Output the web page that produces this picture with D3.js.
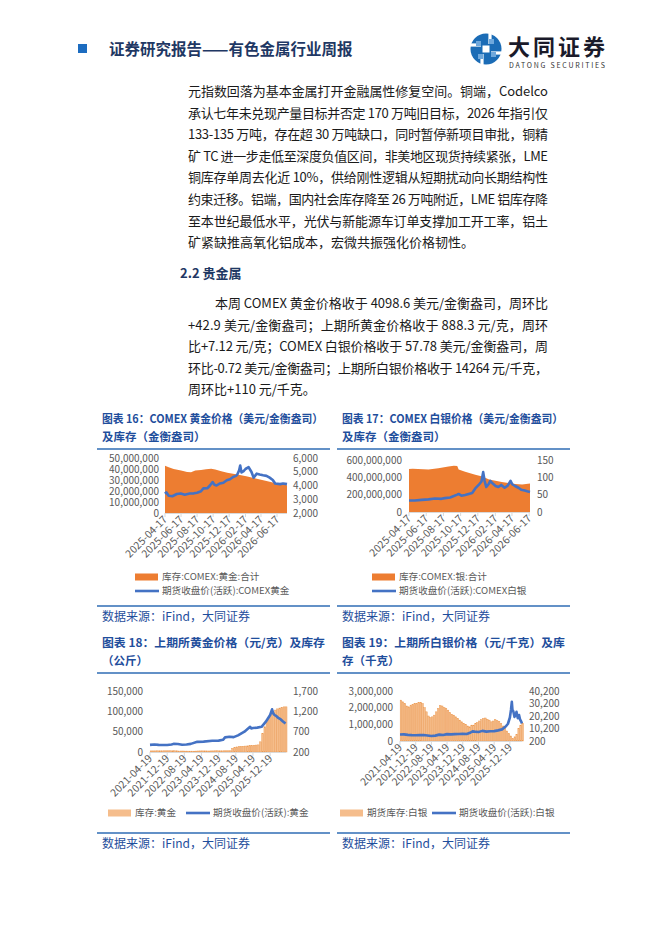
<!DOCTYPE html>
<html>
<head>
<meta charset="utf-8">
<script src="https://cdn.jsdelivr.net/npm/d3@7"></script>
<style>
  body { margin: 0; background: #fff; }
  svg text { font-family: "Noto Sans CJK SC", "Noto Sans", sans-serif; }
</style>
</head>
<body>
<svg id="page" width="662" height="936"></svg>
<script>
// ---------- text ----------
var headerTitle = "证券研究报告——有色金属行业周报";
var para1Lines = [
    "元指数回落为基本金属打开金融属性修复空间。铜端，Codelco",
    "承认七年未兑现产量目标并否定 170 万吨旧目标，2026 年指引仅",
    "133-135 万吨，存在超 30 万吨缺口，同时暂停新项目审批，铜精",
    "矿 TC 进一步走低至深度负值区间，非美地区现货持续紧张，LME",
    "铜库存单周去化近 10%，供给刚性逻辑从短期扰动向长期结构性",
    "约束迁移。铝端，国内社会库存降至 26 万吨附近，LME 铝库存降",
    "至本世纪最低水平，光伏与新能源车订单支撑加工开工率，铝土",
    "矿紧缺推高氧化铝成本，宏微共振强化价格韧性。"
];
var sectionTitle = "2.2 贵金属";
var para2Lines = [
    "本周 COMEX 黄金价格收于 4098.6 美元/金衡盎司，周环比",
    "+42.9 美元/金衡盎司；上期所黄金价格收于 888.3 元/克，周环",
    "比+7.12 元/克；COMEX 白银价格收于 57.78 美元/金衡盎司，周",
    "环比-0.72 美元/金衡盎司；上期所白银价格收于 14264 元/千克，",
    "周环比+110 元/千克。"
];
var sourceText = "数据来源：iFind，大同证券";

// ---------- chart 16: COMEX gold ----------
var goldInvDates = ["2025-04-17","2025-05-01","2025-05-20","2025-06-17","2025-07-10","2025-07-25","2025-08-10","2025-09-01","2025-09-20","2025-10-10","2025-10-25","2025-11-17","2025-12-10","2026-01-17","2026-02-20","2026-04-01","2026-05-08","2026-06-17","2026-07-25"];
var goldInv = [43.0e6,41.5e6,40.0e6,38.6e6,37.3e6,37.0e6,38.6e6,39.2e6,39.8e6,40.2e6,39.5e6,38.0e6,36.5e6,35.0e6,33.3e6,31.2e6,29.2e6,26.8e6,25.2e6];
var goldPriceDates = ["2025-04-17","2025-04-22","2025-05-01","2025-05-15","2025-06-01","2025-06-16","2025-07-01","2025-07-20","2025-08-05","2025-08-17","2025-09-01","2025-09-10","2025-09-25","2025-10-05","2025-10-15","2025-10-22","2025-10-30","2025-11-12","2025-11-25","2025-12-08","2025-12-20","2026-01-01","2026-01-12","2026-01-17","2026-01-24","2026-01-28","2026-02-02","2026-02-10","2026-02-17","2026-03-01","2026-03-12","2026-03-20","2026-04-01","2026-04-12","2026-04-25","2026-05-08","2026-05-20","2026-06-01","2026-06-10","2026-06-29","2026-07-10","2026-07-25"];
var goldPrice = [3400,3500,3260,3220,3380,3420,3330,3420,3430,3480,3580,3790,3800,4000,4250,4050,4000,4150,4200,4380,4450,4620,4700,4800,5100,5450,4950,5050,5200,5330,4980,4570,4860,4800,4740,4700,4570,4400,4140,4100,4150,4100];
var comexTicks = ["2025-04-17","2025-06-17","2025-08-17","2025-10-17","2025-12-17","2026-02-17","2026-04-17","2026-06-17"];

// ---------- chart 17: COMEX silver ----------
var silverInvDates = ["2025-04-17","2025-04-30","2025-06-25","2025-07-30","2025-09-04","2025-09-23","2025-10-05","2025-10-10","2025-11-02","2025-12-08","2026-01-02","2026-01-26","2026-03-12","2026-04-29","2026-05-23","2026-06-20"];
var silverInv = [495e6,500e6,490e6,505e6,525e6,535e6,530e6,490e6,465e6,430e6,410e6,375e6,345e6,322e6,318e6,330e6];
var silverPriceDates = ["2025-04-17","2025-05-08","2025-06-01","2025-06-25","2025-07-18","2025-08-10","2025-08-22","2025-09-10","2025-09-23","2025-10-05","2025-10-10","2025-10-20","2025-11-02","2025-11-27","2025-12-08","2025-12-20","2025-12-30","2026-01-05","2026-01-10","2026-01-16","2026-01-24","2026-01-30","2026-02-08","2026-02-18","2026-02-28","2026-03-10","2026-03-22","2026-04-02","2026-04-12","2026-04-18","2026-04-28","2026-05-10","2026-05-20","2026-06-01","2026-06-10","2026-06-20"];
var silverPrice = [33,33,35,36.5,39,38,40,42,46,50,52,47,49,55,68,78,88,115,90,72,80,90,82,75,72,78,70,76,90,80,75,70,64,62,60,58];

// ---------- chart 18: SHFE gold (monthly stock from 2021-04) ----------
var shfeGoldStock = [2700,2700,2700,2900,3000,3000,3000,3000,3000,3000,3000,3000,3000,2400,2400,2400,2100,2100,2100,2100,2000,2200,2500,2600,2700,2800,2700,2500,2700,2700,2900,3000,3000,3000,3000,3000,3000,3000,
    9000,11000,12500,13000,13500,14000,14500,15000,15500,15800,16500,17000,17500,25000,45000,62000,75000,85000,92000,98000,103000,106000,108000,110000,111000,111000];
var shfeGoldPriceDates = ["2021-04-19","2021-06-19","2021-08-19","2021-10-19","2021-12-19","2022-02-19","2022-03-19","2022-05-19","2022-07-19","2022-09-19","2022-11-19","2023-02-19","2023-05-19","2023-09-19","2023-12-19","2024-02-19","2024-03-19","2024-05-19","2024-07-19","2024-09-19","2024-12-19","2025-03-10","2025-03-25","2025-04-19","2025-06-19","2025-08-19","2025-10-19","2025-12-19","2026-01-15","2026-02-01","2026-02-19","2026-03-19","2026-04-19","2026-05-19","2026-06-19","2026-07-25"];
var shfeGoldPrice = [375,385,375,372,372,385,400,395,380,385,400,450,455,475,480,500,560,575,565,610,700,820,780,790,800,820,945,1110,1250,1150,1110,1080,1030,1000,950,900];
var shfeTicks = ["2021-04-19","2021-12-19","2022-08-19","2023-04-19","2023-12-19","2024-08-19","2025-04-19","2025-12-19"];

// ---------- chart 19: SHFE silver (monthly stock from 2021-04) ----------
var shfeSilverStock = [2.45e6,2.35e6,2.25e6,2.10e6,2.05e6,2.15e6,2.20e6,2.25e6,2.25e6,2.30e6,2.32e6,2.25e6,2.00e6,1.75e6,1.50e6,1.40e6,1.45e6,1.55e6,1.75e6,1.95e6,2.12e6,2.10e6,2.00e6,1.95e6,1.85e6,1.70e6,1.60e6,1.55e6,1.45e6,1.35e6,1.25e6,1.15e6,1.05e6,1.00e6,0.90e6,0.85e6,0.95e6,0.95e6,1.05e6,1.10e6,1.20e6,1.28e6,1.35e6,1.38e6,1.30e6,1.25e6,1.15e6,1.20e6,1.28e6,1.22e6,1.18e6,1.05e6,0.90e6,0.75e6,0.60e6,0.45e6,0.30e6,0.15e6,0.25e6,0.40e6,0.75e6,0.95e6,1.05e6];
var shfeSilverPriceDates = ["2021-04-19","2021-06-19","2021-08-19","2021-10-19","2021-12-19","2022-02-19","2022-04-19","2022-06-19","2022-08-19","2022-10-19","2022-12-19","2023-02-19","2023-04-19","2023-06-19","2023-08-19","2023-10-19","2023-12-19","2024-02-19","2024-04-19","2024-05-19","2024-06-19","2024-08-19","2024-10-19","2024-12-19","2025-02-19","2025-04-19","2025-06-19","2025-08-19","2025-10-19","2025-11-19","2025-12-19","2026-01-05","2026-01-18","2026-01-28","2026-02-10","2026-03-01","2026-03-20","2026-04-01","2026-04-20","2026-05-10","2026-05-25","2026-06-10","2026-06-25"];
var shfeSilverPrice = [5400,5500,5100,4900,4800,4900,5000,4600,4200,4500,5300,5000,5700,5500,5700,5800,5900,5800,7000,7900,7700,7400,8300,7700,8000,8100,8700,9500,12000,14000,19000,25000,31500,25000,24000,19500,21000,23500,18500,21000,17500,16000,14300];

// ---------- helpers ----------
var parse = d3.timeParse("%Y-%m-%d");
var page = d3.select("#page");
var LINE_BLUE = "#4472c4", AREA_ORANGE = "#ed7d31", BAR_FILL = "#f5bd8c", BAR_EDGE = "#ec9a52";
var NAVY = "#1f3864", TITLE_BLUE = "#1f4e9c", AXIS_GREY = "#595959";
var fmt = d3.format(",");

// header
page.append("rect").attr("x", 78).attr("y", 44).attr("width", 9).attr("height", 9).attr("fill", "#1c6cc0");
page.append("text").attr("x", 109).attr("y", 55).attr("font-size", 15.5).attr("font-weight", "bold")
    .attr("fill", NAVY).text(headerTitle);

// logo
var logo = page.append("g").attr("transform", "translate(486,49)");
logo.append("circle").attr("r", 15.5).attr("fill", "#1b6cb6");
[0, 90, 180, 270].forEach(function (a) {
    logo.append("rect").attr("x", -1.6).attr("y", -16).attr("width", 3.2).attr("height", 11)
        .attr("fill", "#fff").attr("transform", "rotate(" + a + ") translate(4,0)");
    logo.append("rect").attr("x", 3).attr("y", -10).attr("width", 5).attr("height", 5)
        .attr("fill", "#6fa8dc").attr("transform", "rotate(" + a + ")");
});
logo.append("rect").attr("x", -3.5).attr("y", -3.5).attr("width", 7).attr("height", 7).attr("fill", "#fff");
page.append("text").attr("x", 508).attr("y", 55).attr("font-size", 22).attr("font-weight", "bold")
    .attr("fill", "#1a1a2a").attr("textLength", 97).text("大同证券");
page.append("text").attr("x", 509).attr("y", 68).attr("font-size", 7)
    .attr("fill", "#333").attr("textLength", 96).text("DATONG SECURITIES");

// body text
var textLeft = 188, textRight = 548, lineH = 21.6;
function drawPara(lines, y0, indent) {
    lines.forEach(function (s, i) {
        var x = textLeft + (i === 0 ? indent : 0);
        var t = page.append("text").attr("x", x).attr("y", y0 + i * lineH)
            .attr("font-size", 13).attr("fill", "#1a1a1a").text(s);
        if (i < lines.length - 1) {
            t.attr("textLength", textRight - x).attr("lengthAdjust", "spacing");
        }
    });
}
drawPara(para1Lines, 96, 0);
page.append("text").attr("x", 180).attr("y", 278).attr("font-size", 13).attr("font-weight", "bold")
    .attr("fill", NAVY).text(sectionTitle);
drawPara(para2Lines, 308, 27);

// ---------- chart drawing ----------
function drawChart(o) {
    var g = page.append("g");

    // title
    g.append("text").attr("x", o.left).attr("y", o.titleY).attr("font-size", 11.5).attr("font-weight", "bold")
        .attr("fill", TITLE_BLUE).attr("textLength", o.titleW).attr("lengthAdjust", "spacingAndGlyphs")
        .text(o.title1);
    g.append("text").attr("x", o.left).attr("y", o.titleY + 17.5).attr("font-size", 11.5).attr("font-weight", "bold")
        .attr("fill", TITLE_BLUE).text(o.title2);
    g.append("line").attr("x1", o.left - 5).attr("x2", o.left + 228).attr("y1", o.titleY + 26).attr("y2", o.titleY + 26)
        .attr("stroke", "#2f6db5").attr("stroke-width", 1.6);

    var x = d3.scaleTime().domain(o.domain.map(parse)).range([o.x0, o.x1]);
    var yL = d3.scaleLinear().domain([0, o.leftMax]).range([o.yBot, o.yTop]);
    var yR = d3.scaleLinear().domain([o.rightMin, o.rightMax]).range([o.yBot, o.yTop]);

    // inventory
    if (o.invType === "area") {
        var invData = o.invDates.map(function (d, i) { return {d: parse(d), v: o.inv[i]}; });
        g.append("path").datum(invData)
            .attr("fill", AREA_ORANGE)
            .attr("d", d3.area().x(function (p) { return x(p.d); }).y0(o.yBot).y1(function (p) { return yL(p.v); }));
    } else {
        var start = parse(o.domain[0]);
        var bars = o.inv.map(function (v, i) { return {d: d3.timeMonth.offset(start, i), v: v}; });
        var bw = x(d3.timeMonth.offset(start, 1)) - x(start);
        g.selectAll(".bar").data(bars).enter().append("rect")
            .attr("x", function (p) { return x(p.d) + bw * 0.1; })
            .attr("y", function (p) { return yL(p.v); })
            .attr("width", bw * 0.8)
            .attr("height", function (p) { return o.yBot - yL(p.v); })
            .attr("fill", BAR_FILL).attr("stroke", BAR_EDGE).attr("stroke-width", 0.5);
    }

    // x axis
    g.append("line").attr("x1", o.x0).attr("x2", o.x1).attr("y1", o.yBot + 0.5).attr("y2", o.yBot + 0.5)
        .attr("stroke", "#d9d9d9").attr("stroke-width", 1);
    var ticks = o.ticks.map(parse);
    g.selectAll(".tk").data(ticks).enter().append("line")
        .attr("x1", function (d) { return x(d); }).attr("x2", function (d) { return x(d); })
        .attr("y1", o.yBot).attr("y2", o.yBot + 4).attr("stroke", "#d9d9d9");
    g.selectAll(".tl").data(o.ticks).enter().append("text")
        .attr("text-anchor", "end").attr("font-size", 10.5).attr("fill", AXIS_GREY)
        .attr("transform", function (d) { return "translate(" + (x(parse(d)) + 3) + "," + (o.yBot + 7) + ") rotate(-45)"; })
        .text(function (d) { return d; });

    // price line
    var priceData = o.priceDates.map(function (d, i) { return {d: parse(d), v: o.price[i]}; });
    g.append("path").datum(priceData)
        .attr("fill", "none").attr("stroke", LINE_BLUE).attr("stroke-width", 2.6).attr("stroke-linejoin", "round")
        .attr("d", d3.line().x(function (p) { return x(p.d); }).y(function (p) { return yR(p.v); }));

    // y labels
    g.selectAll(".yl").data(d3.range(0, o.leftMax + 1, o.leftStep)).enter().append("text")
        .attr("x", o.leftLabelX).attr("y", function (d) { return yL(d); }).attr("dy", ".35em")
        .attr("text-anchor", "end").attr("font-size", 10).attr("fill", AXIS_GREY)
        .text(function (d) { return fmt(d); });
    g.selectAll(".yr").data(d3.range(o.rightMin, o.rightMax + 1, o.rightStep)).enter().append("text")
        .attr("x", o.rightLabelX).attr("y", function (d) { return yR(d); }).attr("dy", ".35em")
        .attr("font-size", 10).attr("fill", AXIS_GREY)
        .text(function (d) { return fmt(d); });

    // legend
    o.legend.forEach(function (L) {
        if (L.kind === "area") {
            g.append("rect").attr("x", L.x).attr("y", L.y - 3.5).attr("width", 23).attr("height", 7)
                .attr("fill", o.invType === "area" ? AREA_ORANGE : BAR_FILL);
        } else {
            g.append("line").attr("x1", L.x).attr("x2", L.x + 24).attr("y1", L.y).attr("y2", L.y)
                .attr("stroke", LINE_BLUE).attr("stroke-width", 2.6);
        }
        g.append("text").attr("x", L.x + 27).attr("y", L.y).attr("dy", ".36em")
            .attr("font-size", 9.6).attr("fill", AXIS_GREY).text(L.label);
    });

    // source
    g.append("line").attr("x1", o.left - 5).attr("x2", o.left + 228).attr("y1", o.sourceY - 10).attr("y2", o.sourceY - 10)
        .attr("stroke", "#2f6db5").attr("stroke-width", 1.6);
    g.append("text").attr("x", o.left).attr("y", o.sourceY + 4.5).attr("font-size", 12)
        .attr("fill", TITLE_BLUE).text(sourceText);
}

drawChart({
    left: 102, titleY: 423, titleW: 221,
    title1: "图表 16：COMEX 黄金价格（美元/金衡盎司）", title2: "及库存（金衡盎司）",
    domain: ["2025-04-17", "2026-07-25"], x0: 165, x1: 287, yTop: 458, yBot: 513,
    invType: "area", invDates: goldInvDates, inv: goldInv,
    priceDates: goldPriceDates, price: goldPrice, ticks: comexTicks,
    leftMax: 50000000, leftStep: 10000000, rightMin: 2000, rightMax: 6000, rightStep: 1000,
    leftLabelX: 159, rightLabelX: 293,
    legend: [{kind: "area", x: 135, y: 577, label: "库存:COMEX:黄金:合计"},
             {kind: "line", x: 135, y: 591, label: "期货收盘价(活跃):COMEX黄金"}],
    sourceY: 616
});
drawChart({
    left: 342, titleY: 423, titleW: 221,
    title1: "图表 17：COMEX 白银价格（美元/金衡盎司）", title2: "及库存（金衡盎司）",
    domain: ["2025-04-17", "2026-06-20"], x0: 409, x1: 530, yTop: 460, yBot: 512,
    invType: "area", invDates: silverInvDates, inv: silverInv,
    priceDates: silverPriceDates, price: silverPrice, ticks: comexTicks,
    leftMax: 600000000, leftStep: 200000000, rightMin: 0, rightMax: 150, rightStep: 50,
    leftLabelX: 402, rightLabelX: 537,
    legend: [{kind: "area", x: 372, y: 577, label: "库存:COMEX:银:合计"},
             {kind: "line", x: 372, y: 591, label: "期货收盘价(活跃):COMEX白银"}],
    sourceY: 616
});
drawChart({
    left: 102, titleY: 647, titleW: 223,
    title1: "图表 18：上期所黄金价格（元/克）及库存", title2: "（公斤）",
    domain: ["2021-04-19", "2026-08-01"], x0: 150, x1: 286, yTop: 691, yBot: 752,
    invType: "bar", inv: shfeGoldStock,
    priceDates: shfeGoldPriceDates, price: shfeGoldPrice, ticks: shfeTicks,
    leftMax: 150000, leftStep: 50000, rightMin: 200, rightMax: 1700, rightStep: 500,
    leftLabelX: 143, rightLabelX: 293,
    legend: [{kind: "area", x: 108, y: 813, label: "库存:黄金"},
             {kind: "line", x: 186, y: 813, label: "期货收盘价(活跃):黄金"}],
    sourceY: 843
});
drawChart({
    left: 342, titleY: 647, titleW: 223,
    title1: "图表 19：上期所白银价格（元/千克）及库", title2: "存（千克）",
    domain: ["2021-04-19", "2026-06-25"], x0: 400, x1: 522, yTop: 691, yBot: 741,
    invType: "bar", inv: shfeSilverStock,
    priceDates: shfeSilverPriceDates, price: shfeSilverPrice, ticks: shfeTicks,
    leftMax: 3000000, leftStep: 1000000, rightMin: 200, rightMax: 40200, rightStep: 10000,
    leftLabelX: 393, rightLabelX: 529,
    legend: [{kind: "area", x: 340, y: 813, label: "期货库存:白银"},
             {kind: "line", x: 432, y: 813, label: "期货收盘价(活跃):白银"}],
    sourceY: 843
});
</script>
</body>
</html>
